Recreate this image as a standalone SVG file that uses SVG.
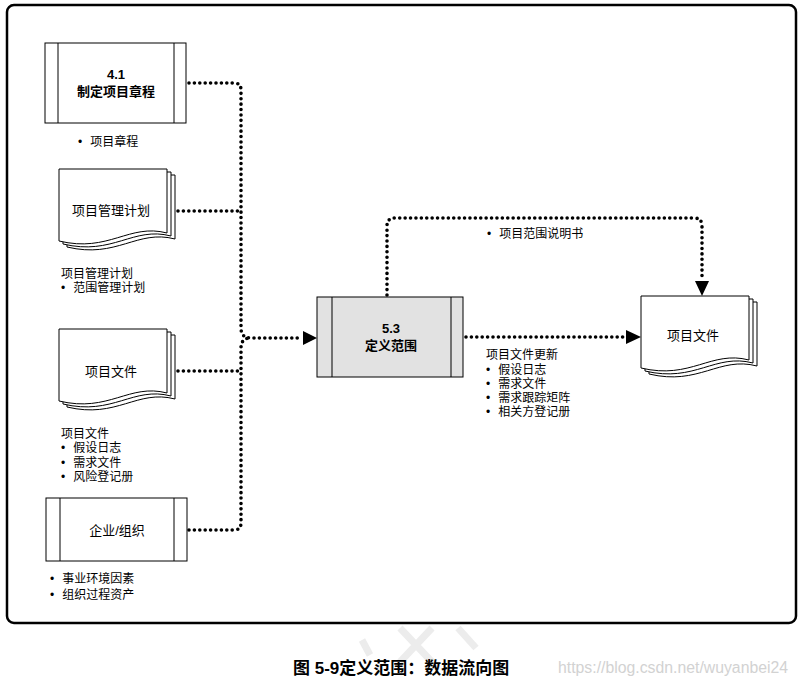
<svg xmlns="http://www.w3.org/2000/svg" width="799" height="680" viewBox="0 0 799 680">
<defs>
<style>
text{font-family:"Liberation Sans","Noto Sans CJK SC",sans-serif;fill:#000}
.lbl{font-size:12px}
.nt{font-size:13px;text-anchor:middle}
.b{font-weight:bold}
.box{fill:#fff;stroke:#000;stroke-width:1}
.page{fill:#fff;stroke:#000;stroke-width:1}
.dot{fill:none;stroke:#000;stroke-width:3.6;stroke-linecap:round;stroke-dasharray:0 5.4}
.wm{fill:none;stroke:#ececec;stroke-width:7}
</style>
<path id="doc" d="M0,0 H108 V64 C70,54 50,84 0,72 Z"/>
</defs>
<rect x="7" y="5" width="789" height="618" rx="7" fill="#fff" stroke="#000" stroke-width="2.5"/>

<g id="node-4-1">
<rect class="box" x="45" y="43" width="141" height="80"/>
<line x1="58" y1="43" x2="58" y2="123" stroke="#000"/>
<line x1="174" y1="43" x2="174" y2="123" stroke="#000"/>
<text class="nt b" x="116" y="79">4.1</text>
<text class="nt b" x="116" y="96">制定项目章程</text>
<text class="lbl" x="78" y="146">•<tspan dx="8">项目章程</tspan></text>
</g>

<g id="node-pm-plan">
<use href="#doc" class="page" transform="translate(67,175)"/>
<use href="#doc" class="page" transform="translate(63,172)"/>
<use href="#doc" class="page" transform="translate(59,169)"/>
<text class="nt" x="111" y="215">项目管理计划</text>
<text class="lbl" x="61" y="278">项目管理计划</text>
<text class="lbl" x="61" y="292">•<tspan dx="8">范围管理计划</tspan></text>
</g>

<g id="node-proj-docs-in">
<use href="#doc" class="page" transform="translate(67,335)"/>
<use href="#doc" class="page" transform="translate(63,332)"/>
<use href="#doc" class="page" transform="translate(59,329)"/>
<text class="nt" x="111" y="376">项目文件</text>
<text class="lbl" x="61" y="438">项目文件</text>
<text class="lbl" x="61" y="452">•<tspan dx="8">假设日志</tspan></text>
<text class="lbl" x="61" y="467">•<tspan dx="8">需求文件</tspan></text>
<text class="lbl" x="61" y="481">•<tspan dx="8">风险登记册</tspan></text>
</g>

<g id="node-enterprise">
<rect class="box" x="46" y="498" width="141" height="63"/>
<line x1="60" y1="498" x2="60" y2="561" stroke="#000"/>
<line x1="174" y1="498" x2="174" y2="561" stroke="#000"/>
<text class="nt" x="117" y="535">企业/组织</text>
<text class="lbl" x="50" y="583">•<tspan dx="8">事业环境因素</tspan></text>
<text class="lbl" x="50" y="599">•<tspan dx="8">组织过程资产</tspan></text>
</g>

<g id="node-5-3">
<rect x="317" y="297" width="146" height="80" fill="#e2e2e2" stroke="#000" stroke-width="1"/>
<line x1="332" y1="297" x2="332" y2="377" stroke="#000"/>
<line x1="451" y1="297" x2="451" y2="377" stroke="#000"/>
<text class="nt b" x="391" y="333">5.3</text>
<text class="nt b" x="391" y="350">定义范围</text>
</g>

<g id="node-proj-docs-out">
<use href="#doc" class="page" transform="translate(649,302)"/>
<use href="#doc" class="page" transform="translate(645,299)"/>
<use href="#doc" class="page" transform="translate(641,296)"/>
<text class="nt" x="693" y="340">项目文件</text>
</g>

<g id="connectors">
<path class="dot" d="M189,83 H234 Q241,83 241,90 V328 Q241,338 251,338 H302"/>
<path class="dot" d="M178,211 H241"/>
<path class="dot" d="M178,371 H241"/>
<path class="dot" d="M189,530 H234 Q241,530 241,523 V348 Q241,338 251,338"/>
<polygon points="303,331 317,338 303,345" fill="#000"/>
<path class="dot" d="M387,295 V226 Q387,218 395,218 H694 Q702,218 702,226 V280"/>
<polygon points="695,281 709,281 702,296" fill="#000"/>
<path class="dot" d="M466,337 H624"/>
<polygon points="626,330 641,337 626,344" fill="#000"/>
<text class="lbl" x="487" y="238">•<tspan dx="8">项目范围说明书</tspan></text>
<text class="lbl" x="486" y="359">项目文件更新</text>
<text class="lbl" x="486" y="374">•<tspan dx="8">假设日志</tspan></text>
<text class="lbl" x="486" y="388">•<tspan dx="8">需求文件</tspan></text>
<text class="lbl" x="486" y="402">•<tspan dx="8">需求跟踪矩阵</tspan></text>
<text class="lbl" x="486" y="416">•<tspan dx="8">相关方登记册</tspan></text>
</g>

<g id="watermark">
<path class="wm" d="M362,640 L370,655 M400,628 L432,662 M432,628 L400,662 M458,628 L476,648"/>
<text x="558" y="673" font-size="15.8" style="fill:#d2d2d2">https://blog.csdn.net/wuyanbei24</text>
</g>
<text x="293" y="674" font-size="17" font-weight="bold">图 5-9定义范围：数据流向图</text>
</svg>
